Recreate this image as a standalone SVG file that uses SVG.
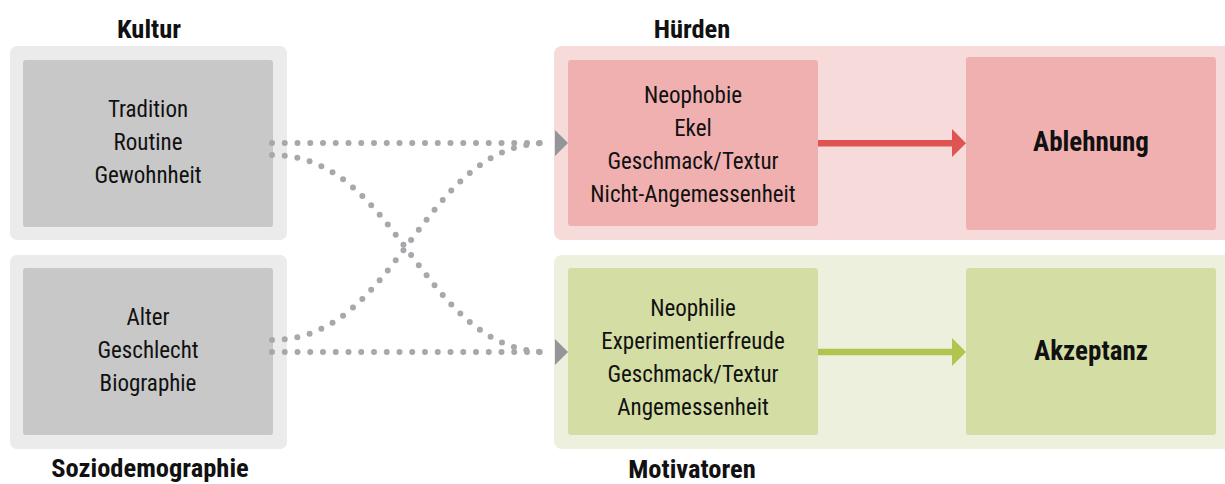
<svg xmlns="http://www.w3.org/2000/svg" width="1225" height="484" viewBox="0 0 1225 484">
  <style>
    text { font-family: "Roboto Condensed", Roboto, "Liberation Sans", sans-serif; fill: #111; text-anchor: middle; }
    .body { font-size: 23px; }
    .head { font-size: 26.5px; font-weight: bold; }
    .big { font-size: 27px; font-weight: bold; }
    .g-out { fill: #ebebeb; }
    .g-in { fill: #c8c8c8; }
    .r-out { fill: #f7dbdb; }
    .r-in { fill: #f0b0b0; }
    .v-out { fill: #edf0dc; }
    .v-in { fill: #d4dea4; }
    .dots { fill: none; stroke: #a7a8ab; stroke-width: 6; stroke-linecap: round; stroke-dasharray: 0 12.75; }
    .ghead { fill: #939598; }
  </style>

  <g id="kultur">
    <rect class="g-out" x="10" y="46" width="277" height="194" rx="7"/>
    <rect class="g-in" x="23" y="60" width="250" height="167" rx="3"/>
    <text class="head" x="149" y="38">Kultur</text>
    <text class="body" x="148" y="117">Tradition</text>
    <text class="body" x="148" y="150">Routine</text>
    <text class="body" x="148" y="183">Gewohnheit</text>
  </g>

  <g id="soziodemographie">
    <rect class="g-out" x="10" y="255" width="277" height="194" rx="7"/>
    <rect class="g-in" x="23" y="268" width="250" height="167" rx="3"/>
    <text class="head" x="150" y="477">Soziodemographie</text>
    <text class="body" x="148" y="325">Alter</text>
    <text class="body" x="148" y="358">Geschlecht</text>
    <text class="body" x="148" y="391">Biographie</text>
  </g>

  <g id="huerden">
    <rect class="r-out" x="554" y="46" width="680" height="194" rx="8"/>
    <rect class="r-in" x="568" y="60" width="250" height="166" rx="3"/>
    <text class="head" x="692" y="38">Hürden</text>
    <text class="body" x="693" y="103">Neophobie</text>
    <text class="body" x="693" y="136">Ekel</text>
    <text class="body" x="693" y="169">Geschmack/Textur</text>
    <text class="body" x="693" y="202">Nicht-Angemessenheit</text>
  </g>

  <g id="ablehnung">
    <rect class="r-in" x="966" y="57" width="250" height="173" rx="3"/>
    <text class="big" x="1091" y="151">Ablehnung</text>
  </g>

  <g id="motivatoren">
    <rect class="v-out" x="554" y="255" width="680" height="194" rx="8"/>
    <rect class="v-in" x="568" y="268" width="250" height="167" rx="3"/>
    <text class="head" x="692" y="478">Motivatoren</text>
    <text class="body" x="693" y="316">Neophilie</text>
    <text class="body" x="693" y="349">Experimentierfreude</text>
    <text class="body" x="693" y="382">Geschmack/Textur</text>
    <text class="body" x="693" y="415">Angemessenheit</text>
  </g>

  <g id="akzeptanz">
    <rect class="v-in" x="966" y="268" width="250" height="167" rx="3"/>
    <text class="big" x="1091" y="360">Akzeptanz</text>
  </g>

  <g id="connectors">
    <path class="dots" d="M272,143 L548,143"/>
    <path class="dots" d="M272,155 C400,155 420,352 548,352"/>
    <path class="dots" d="M272,352 L548,352"/>
    <path class="dots" d="M272,340 C400,340 420,143 548,143"/>
    <polygon class="ghead" points="555,130 568,143 555,156"/>
    <polygon class="ghead" points="555,339 568,352 555,365"/>
    <line x1="818" y1="143.3" x2="953" y2="143.3" stroke="#e05353" stroke-width="6.5"/>
    <polygon points="952,129 966,143.3 952,157" fill="#e05353"/>
    <line x1="818" y1="352" x2="953" y2="352" stroke="#b0c450" stroke-width="6.5"/>
    <polygon points="952,338 966,352 952,366" fill="#b0c450"/>
  </g>
</svg>
